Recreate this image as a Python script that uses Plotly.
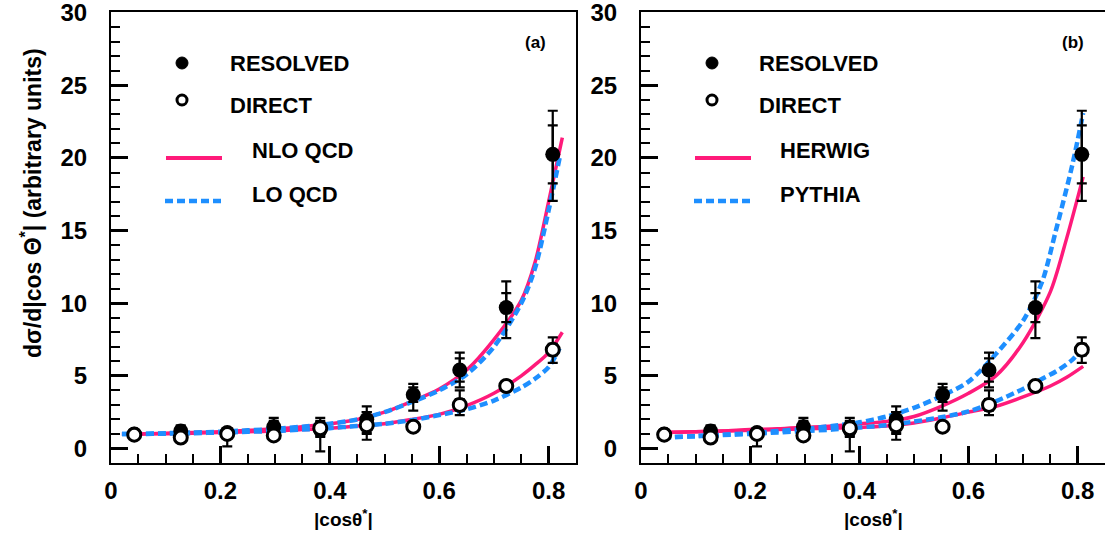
import plotly.graph_objects as go

W, H = 1105, 535

# ---------------- data ----------------
bin_centers = [0.0425, 0.1275, 0.2125, 0.2975, 0.3825, 0.4675, 0.5525, 0.6375, 0.7225, 0.8075]

resolved = [1.0, 1.2, 1.1, 1.5, 1.3, 2.0, 3.7, 5.4, 9.7, 20.25]
resolved_stat = [0.15, 0.3, 0.2, 0.4, 0.3, 0.5, 0.5, 0.8, 1.0, 2.0]
resolved_tot_up = [0.25, 0.4, 0.3, 0.6, 0.5, 0.9, 0.75, 1.2, 1.8, 3.0]
resolved_tot_dn = [0.25, 0.4, 0.3, 0.6, 0.5, 0.9, 1.1, 1.2, 2.1, 3.2]

direct = [0.95, 0.75, 1.0, 0.9, 1.4, 1.6, 1.5, 3.0, 4.3, 6.8]
direct_stat = [0.1, 0.2, 0.3, 0.2, 0.5, 0.6, 0.15, 0.4, 0.2, 0.4]
direct_tot_up = [0.15, 0.3, 0.35, 0.3, 0.7, 0.9, 0.25, 1.0, 0.3, 0.85]
direct_tot_dn = [0.15, 0.3, 0.85, 0.3, 1.6, 1.0, 0.25, 0.7, 0.3, 0.9]

# (a) QCD calculations
nlo_x = [0.02, 0.05, 0.1, 0.15, 0.2, 0.25, 0.3, 0.35, 0.4, 0.45, 0.5, 0.55, 0.6, 0.65, 0.7, 0.75, 0.775, 0.8, 0.825]
nlo_resolved = [1.0, 1.0, 1.05, 1.1, 1.15, 1.25, 1.35, 1.5, 1.7, 2.0, 2.5, 3.25, 4.1, 5.4, 7.5, 10.2, 12.8, 17.0, 21.4]
nlo_direct = [1.0, 1.0, 1.02, 1.05, 1.1, 1.15, 1.2, 1.3, 1.4, 1.55, 1.7, 2.0, 2.35, 2.95, 3.8, 5.0, 5.75, 6.6, 8.0]
lo_x = [0.02, 0.05, 0.1, 0.15, 0.2, 0.25, 0.3, 0.35, 0.4, 0.45, 0.5, 0.55, 0.6, 0.65, 0.7, 0.75, 0.775, 0.8, 0.82]
lo_resolved = [1.0, 1.0, 1.05, 1.1, 1.15, 1.25, 1.35, 1.5, 1.7, 2.0, 2.5, 3.2, 4.0, 5.1, 7.0, 10.0, 12.4, 16.4, 20.0]
lo_direct = [1.0, 1.0, 1.02, 1.05, 1.1, 1.15, 1.2, 1.3, 1.4, 1.55, 1.7, 1.95, 2.3, 2.7, 3.3, 4.2, 4.8, 5.6, 6.9]

# (b) Monte Carlo generators
herwig_x = [0.04, 0.1, 0.15, 0.2, 0.25, 0.3, 0.35, 0.4, 0.45, 0.5, 0.55, 0.6, 0.65, 0.7, 0.75, 0.78, 0.81]
herwig_resolved = [1.1, 1.15, 1.2, 1.3, 1.35, 1.45, 1.55, 1.7, 1.85, 2.2, 2.9, 3.8, 5.0, 7.3, 10.8, 14.5, 18.7]
herwig_direct = [1.1, 1.15, 1.2, 1.25, 1.3, 1.35, 1.4, 1.45, 1.55, 1.75, 2.1, 2.5, 2.9, 3.55, 4.3, 4.9, 5.65]
pythia_x = [0.04, 0.1, 0.15, 0.2, 0.25, 0.3, 0.35, 0.4, 0.45, 0.5, 0.55, 0.6, 0.65, 0.7, 0.735, 0.76, 0.79, 0.81]
pythia_resolved = [0.75, 0.85, 0.95, 1.05, 1.2, 1.35, 1.55, 1.8, 2.2, 2.8, 3.6, 4.6, 6.5, 8.8, 11.5, 15.0, 19.5, 23.1]
pythia_direct = [0.75, 0.85, 0.92, 1.0, 1.1, 1.2, 1.3, 1.45, 1.6, 1.85, 2.15, 2.55, 3.25, 4.1, 4.8, 5.3, 6.1, 6.95]

x_tickvals = [0, 0.2, 0.4, 0.6, 0.8]
x_ticktext = ["0", "0.2", "0.4", "0.6", "0.8"]
y_tickvals = [0, 5, 10, 15, 20, 25, 30]
y_ticktext = ["0", "5", "10", "15", "20", "25", "30"]

PINK = "#ff1a7a"
BLUE = "#1e8fff"
FONT = "Liberation Sans, Arial, sans-serif"

fig = go.Figure()


def add_panel(xa, ya, solid, dashed):
    (sx, s_res, s_dir), (dx, d_res, d_dir) = solid, dashed
    for yv in (s_res, s_dir):
        fig.add_trace(go.Scatter(x=sx, y=yv, mode="lines", xaxis=xa, yaxis=ya,
                                 line=dict(color=PINK, width=3.5, shape="spline", smoothing=0.8),
                                 showlegend=False))
    for yv in (d_res, d_dir):
        fig.add_trace(go.Scatter(x=dx, y=yv, mode="lines", xaxis=xa, yaxis=ya,
                                 line=dict(color=BLUE, width=4.5, dash="8px,4px", shape="spline", smoothing=0.8),
                                 showlegend=False))
    # total error bars
    for yv, up, dn in ((resolved, resolved_tot_up, resolved_tot_dn), (direct, direct_tot_up, direct_tot_dn)):
        fig.add_trace(go.Scatter(x=bin_centers, y=yv, mode="markers", xaxis=xa, yaxis=ya,
                                 marker=dict(size=1, color="rgba(0,0,0,0)"),
                                 error_y=dict(type="data", symmetric=False, array=up, arrayminus=dn,
                                              color="black", thickness=2.2, width=5),
                                 showlegend=False))
    # statistical error bars
    for yv, st in ((resolved, resolved_stat), (direct, direct_stat)):
        fig.add_trace(go.Scatter(x=bin_centers, y=yv, mode="markers", xaxis=xa, yaxis=ya,
                                 marker=dict(size=1, color="rgba(0,0,0,0)"),
                                 error_y=dict(type="data", array=st, color="black", thickness=2.2, width=5),
                                 showlegend=False))
    fig.add_trace(go.Scatter(x=bin_centers, y=resolved, mode="markers", xaxis=xa, yaxis=ya,
                             marker=dict(symbol="circle", size=15, color="black"), showlegend=False))
    fig.add_trace(go.Scatter(x=bin_centers, y=direct, mode="markers", xaxis=xa, yaxis=ya,
                             marker=dict(symbol="circle", size=13, color="white",
                                         line=dict(color="black", width=3)), showlegend=False))


add_panel("x", "y", (nlo_x, nlo_resolved, nlo_direct), (lo_x, lo_resolved, lo_direct))
add_panel("x2", "y2", (herwig_x, herwig_resolved, herwig_direct), (pythia_x, pythia_resolved, pythia_direct))

ydom = [1 - 463 / H, 1 - 12 / H]


def xaxis(domain, mirror):
    return dict(domain=domain, range=[0, 0.85], showgrid=False, zeroline=False, automargin=False,
                showline=True, linecolor="black", linewidth=2, mirror=mirror,
                ticks="inside", ticklen=17, tickwidth=3, tickcolor="black",
                tickvals=x_tickvals, ticktext=x_ticktext, ticklabelstandoff=5,
                ticklabeloverflow="allow",
                tickfont=dict(family=FONT, size=24, color="black", weight="bold"),
                minor=dict(dtick=0.05, tick0=0, ticks="inside", ticklen=9, tickwidth=2, tickcolor="black"))


def yaxis(anchor, mirror):
    return dict(domain=ydom, range=[-1, 30.05], anchor=anchor, showgrid=False, zeroline=False,
                automargin=False,
                showline=True, linecolor="black", linewidth=2, mirror=mirror,
                ticks="inside", ticklen=17, tickwidth=3, tickcolor="black",
                tickvals=y_tickvals, ticktext=y_ticktext, ticklabelstandoff=17,
                ticklabeloverflow="allow",
                tickfont=dict(family=FONT, size=24, color="black", weight="bold"),
                minor=dict(dtick=1, tick0=0, ticks="inside", ticklen=9, tickwidth=2, tickcolor="black"))


fig.update_layout(
    width=W, height=H,
    margin=dict(l=0, r=0, t=0, b=0, autoexpand=False),
    paper_bgcolor="white", plot_bgcolor="white",
    xaxis=dict(xaxis([111 / W, 576 / W], True), anchor="y"),
    yaxis=yaxis("x", True),
    xaxis2=dict(xaxis([641 / W, 1.0], True), anchor="y2"),
    yaxis2=yaxis("x2", False),
    showlegend=False,
)

annots = []
shapes = []


def px(x):
    return x / W


def py(y):
    return 1 - y / H


def text(x, y, s, size, xanchor="left", angle=0):
    annots.append(dict(x=px(x), y=py(y), xref="paper", yref="paper", text=s, showarrow=False,
                       xanchor=xanchor, yanchor="middle", textangle=angle,
                       font=dict(family=FONT, size=size, color="black", weight="bold")))


def legend_block(mx, tx, lx0, lx1, tx2, labels):
    # filled marker
    shapes.append(dict(type="circle", xref="paper", yref="paper", x0=px(mx - 6), x1=px(mx + 6),
                       y0=py(63 + 6), y1=py(63 - 6), fillcolor="black", line=dict(color="black", width=1)))
    text(tx, 64, "RESOLVED", 22)
    # open marker
    shapes.append(dict(type="circle", xref="paper", yref="paper", x0=px(mx - 5), x1=px(mx + 5),
                       y0=py(100 + 5), y1=py(100 - 5), fillcolor="white", line=dict(color="black", width=3)))
    text(tx, 106, "DIRECT", 22)
    shapes.append(dict(type="line", xref="paper", yref="paper", x0=px(lx0), x1=px(lx1), y0=py(158), y1=py(158),
                       line=dict(color=PINK, width=4)))
    text(tx2, 150, labels[0], 22)
    shapes.append(dict(type="line", xref="paper", yref="paper", x0=px(lx0 - 1), x1=px(lx1 + 2), y0=py(201), y1=py(201),
                       line=dict(color=BLUE, width=4.5, dash="8px,4px")))
    text(tx2, 194, labels[1], 22)


legend_block(182, 228, 166, 222, 250, ("NLO QCD", "LO QCD"))
legend_block(712, 757, 695, 751, 778, ("HERWIG", "PYTHIA"))

text(535, 42, "(a)", 17, xanchor="center")
text(1073, 43, "(b)", 17, xanchor="center")

text(343, 518, "|cosθ<sup>*</sup>|", 19, xanchor="center")
text(873, 518, "|cosθ<sup>*</sup>|", 19, xanchor="center")
text(31, 203, "dσ/d|cos Θ<sup>*</sup>| (arbitrary units)", 23, xanchor="center", angle=-90)

fig.update_layout(annotations=annots, shapes=shapes)

fig.write_html("out.html")
